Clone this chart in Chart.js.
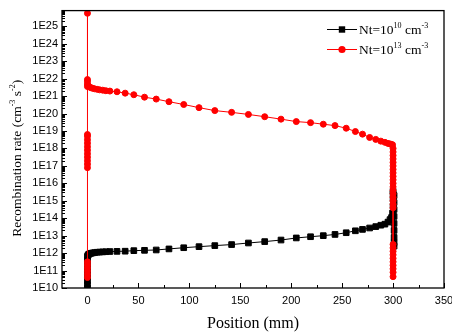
<!DOCTYPE html>
<html lang="en">
<head>
<meta charset="UTF-8">
<title>Recombination rate vs position</title>
<script src="https://cdn.jsdelivr.net/npm/chart.js"></script>
<style>
  html, body { margin: 0; padding: 0; background: #fff; }
  #wrap { width: 452px; height: 333px; position: relative; }
</style>
</head>
<body>
<div id="wrap"><canvas id="chart"></canvas></div>
<script>
// positions (mm) of the mesh shared by both curves
const meshX = [0.3, 1, 2, 3.5, 5, 7, 9.5, 12, 15, 18, 22, 29, 37, 45.5, 56, 67.5, 80, 94.5,
  109.5, 125, 141.5, 158, 174, 190, 205, 219, 231.5, 243, 254, 263, 270, 277, 283, 288,
  292, 295, 297, 298.5, 299.5];

// rates are stored as exponents (log10)
// Nt = 1e10
const blackLeftLog = [10.0, 10.2, 10.4, 10.6, 10.8, 11.0, 11.2, 11.4, 11.6, 11.8];   // x = 0
const blackMeshLog = [11.86, 11.92, 11.96, 11.99, 12.01, 12.03, 12.05, 12.06, 12.07, 12.08,
  12.09, 12.1, 12.11, 12.14, 12.16, 12.18, 12.24, 12.31, 12.37, 12.43, 12.49, 12.58, 12.66,
  12.75, 12.87, 12.94, 13.0, 13.07, 13.17, 13.28, 13.36, 13.44, 13.52, 13.6, 13.66, 13.78,
  13.92, 14.04, 14.3];
const blackUpLog = [14.7, 15.1, 15.4, 15.55];                                          // x = 300
const blackDownLog = [15.3, 14.9, 14.5, 14.1, 13.7, 13.3, 12.9, 12.6, 12.4];           // x = 301

// Nt = 1e13
const redLeftLog = [10.6, 10.78, 10.96, 11.14, 11.32, 11.5, 16.9, 17.1, 17.3, 17.5, 17.7,
  17.9, 18.1, 18.3, 18.5, 18.7, 18.8, 21.55, 21.7, 21.85, 21.95, 25.75];                // x = 0
const redMeshLog = [21.62, 21.56, 21.52, 21.48, 21.45, 21.42, 21.39, 21.36, 21.34, 21.31,
  21.29, 21.25, 21.17, 21.08, 20.94, 20.83, 20.68, 20.52, 20.34, 20.17, 20.07, 19.95, 19.82,
  19.68, 19.54, 19.48, 19.39, 19.31, 19.16, 18.97, 18.82, 18.63, 18.52, 18.42, 18.35, 18.29,
  18.26, 18.23, 18.21];
const redRightLog = [18.0, 17.8, 17.6, 17.4, 17.2, 17.0, 16.8, 16.6, 16.4, 16.2, 16.0, 15.8,
  15.6, 15.4, 15.2, 15.0, 14.8, 14.6, 12.5, 12.3, 12.1, 11.9, 11.7, 11.5, 11.3, 11.1, 10.9,
  10.65];                                                                                // x = 300

const xTicks = [0, 50, 100, 150, 200, 250, 300, 350];
const xMinorTicks = [25, 75, 125, 175, 225, 275, 325];
const yExponents = [10, 11, 12, 13, 14, 15, 16, 17, 18, 19, 20, 21, 22, 23, 24, 25];

const legendParts = [
  [['Nt=10', false], ['10', true], [' cm', false], ['-3', true]],
  [['Nt=10', false], ['13', true], [' cm', false], ['-3', true]]
];
const yTitleParts = [['Recombination rate (cm', false], ['-3', true], [' s', false], ['-2', true], [')', false]];
const xTitle = 'Position (mm)';

const SERIF = '"Liberation Serif", "Times New Roman", serif';
const SANS = '"Liberation Sans", Arial, sans-serif';

function pts(x, logs) {
  return logs.map(e => ({ x: x, y: Math.pow(10, e) }));
}
function meshPts(logs) {
  return logs.map((e, i) => ({ x: meshX[i], y: Math.pow(10, e) }));
}

const blackData = [].concat(pts(0, blackLeftLog), meshPts(blackMeshLog), pts(300, blackUpLog), pts(301, blackDownLog));
const redData = [].concat(pts(0, redLeftLog), meshPts(redMeshLog), pts(300, redRightLog));

// rich text with superscripts, left aligned on the alphabetic baseline
function richWidth(ctx, parts, size, supSize) {
  let w = 0;
  parts.forEach(([t, sup]) => {
    ctx.font = (sup ? supSize : size) + 'px ' + SERIF;
    w += ctx.measureText(t).width;
  });
  return w;
}
function drawRich(ctx, parts, x, y, size, supSize) {
  let cx = x;
  parts.forEach(([t, sup]) => {
    ctx.font = (sup ? supSize : size) + 'px ' + SERIF;
    ctx.fillText(t, cx, sup ? y - size * 0.42 : y);
    cx += ctx.measureText(t).width;
  });
}

const decorPlugin = {
  id: 'decor',
  afterDatasetsDraw(chart) {
    const ctx = chart.ctx;
    const a = chart.chartArea;
    const xs = chart.scales.x, ys = chart.scales.y;
    ctx.save();
    ctx.strokeStyle = '#000';
    ctx.lineWidth = 1;
    ctx.beginPath();
    // inward ticks on the left axis: decades and 2..9 minors
    yExponents.forEach(e => {
      const py = Math.round(ys.getPixelForValue(Math.pow(10, e))) + 0.5;
      ctx.moveTo(a.left, py); ctx.lineTo(a.left + 5, py);
    });
    for (let e = 10; e <= 25; e++) {
      for (let k = 2; k <= 9; k++) {
        const v = k * Math.pow(10, e);
        if (v > ys.max) break;
        const py = Math.round(ys.getPixelForValue(v)) + 0.5;
        ctx.moveTo(a.left, py); ctx.lineTo(a.left + 3, py);
      }
    }
    // inward ticks on the bottom axis
    xTicks.forEach(v => {
      const px = Math.round(xs.getPixelForValue(v)) + 0.5;
      ctx.moveTo(px, a.bottom); ctx.lineTo(px, a.bottom - 5);
    });
    xMinorTicks.forEach(v => {
      const px = Math.round(xs.getPixelForValue(v)) + 0.5;
      ctx.moveTo(px, a.bottom); ctx.lineTo(px, a.bottom - 3);
    });
    ctx.stroke();
    // frame
    ctx.lineWidth = 1.3;
    ctx.strokeRect(a.left, a.top, a.right - a.left, a.bottom - a.top);
    ctx.restore();
  },
  afterDraw(chart) {
    const ctx = chart.ctx;
    const a = chart.chartArea;
    ctx.save();
    ctx.fillStyle = '#000';
    ctx.textBaseline = 'alphabetic';

    // legend
    const sets = [chart.data.datasets[1], chart.data.datasets[0]]; // black first, red second
    sets.forEach((ds, i) => {
      const ly = 29 + i * 20;
      ctx.strokeStyle = ds.borderColor;
      ctx.lineWidth = 1;
      ctx.beginPath();
      ctx.moveTo(a.right - 117, ly + 0.5); ctx.lineTo(a.right - 87, ly + 0.5);
      ctx.stroke();
      ctx.fillStyle = ds.backgroundColor;
      const mx = a.right - 102;
      if (ds.pointStyle === 'rect') {
        ctx.fillRect(mx - 3.2, ly - 2.7, 6.4, 6.4);
      } else {
        ctx.beginPath(); ctx.arc(mx, ly + 0.5, 3.6, 0, Math.PI * 2); ctx.fill();
      }
      ctx.fillStyle = '#000';
      drawRich(ctx, legendParts[i], a.right - 85, ly + 4.5, 13.5, 8);
    });

    // y title, rotated
    ctx.save();
    ctx.translate(21, (a.top + a.bottom) / 2 + 9);
    ctx.rotate(-Math.PI / 2);
    const w = richWidth(ctx, yTitleParts, 13.5, 8);
    drawRich(ctx, yTitleParts, -w / 2, 0, 13.5, 8);
    ctx.restore();

    // x title
    ctx.font = '16px ' + SERIF;
    ctx.textAlign = 'center';
    ctx.fillText(xTitle, (a.left + a.right) / 2, 327.5);
    ctx.restore();
  }
};

new Chart(document.getElementById('chart'), {
  type: 'line',
  data: {
    datasets: [
      {
        label: 'Nt=10^13 cm^-3',
        data: redData,
        borderColor: '#ff0000',
        backgroundColor: '#ff0000',
        borderWidth: 1,
        pointStyle: 'circle',
        pointRadius: 3,
        pointBorderWidth: 1,
        pointBackgroundColor: '#ff0000',
        pointBorderColor: '#ff0000',
        tension: 0,
        clip: 0
      },
      {
        label: 'Nt=10^10 cm^-3',
        data: blackData,
        borderColor: '#000000',
        backgroundColor: '#000000',
        borderWidth: 1,
        pointStyle: 'rect',
        pointRadius: 4,
        pointBorderWidth: 1,
        pointBackgroundColor: '#000000',
        pointBorderColor: '#000000',
        tension: 0,
        clip: 0
      }
    ]
  },
  options: {
    responsive: true,
    maintainAspectRatio: false,
    animation: false,
    layout: { padding: { top: 8, right: 0, left: 0, bottom: 0 } },
    plugins: {
      legend: { display: false },
      tooltip: { enabled: false }
    },
    scales: {
      x: {
        type: 'linear',
        min: -25,
        max: 350,
        grid: { display: false, drawTicks: false },
        border: { display: false },
        afterBuildTicks: s => { s.ticks = xTicks.map(v => ({ value: v })); },
        afterFit: s => { s.height = 45; s.paddingRight = 8; },
        ticks: {
          autoSkip: false,
          maxRotation: 0,
          padding: 6,
          color: '#000',
          font: { family: SANS, size: 11 }
        }
      },
      y: {
        type: 'logarithmic',
        min: 1e10,
        max: 8e25,
        grid: { display: false, drawTicks: false },
        border: { display: false },
        afterBuildTicks: s => { s.ticks = yExponents.map(e => ({ value: Math.pow(10, e) })); },
        afterFit: s => { s.width = 62; },
        ticks: {
          autoSkip: false,
          padding: 4,
          color: '#000',
          font: { family: SANS, size: 11 },
          callback: v => '1E' + Math.round(Math.log10(v))
        }
      }
    }
  },
  plugins: [decorPlugin]
});
</script>
</body>
</html>
